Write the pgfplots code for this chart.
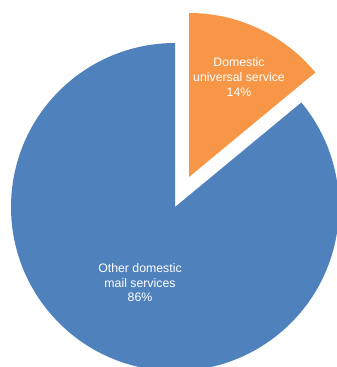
\documentclass[border=0pt]{standalone}
\usepackage{pgfplots}
\pgfplotsset{compat=1.18}
\usepackage{fontspec}
\setmainfont{Liberation Sans}
\definecolor{pieblue}{HTML}{4F81BD}
\definecolor{pieorange}{HTML}{F79646}
% slice shares (percent)
\def\valUniversal{14}
\def\valOther{86}
\begin{document}
\begin{tikzpicture}
\begin{axis}[hide axis, scale only axis, x=1pt, y=1pt,
  xmin=0, xmax=337, ymin=0, ymax=367, clip=true]
  \pgfmathsetmacro{\angEnd}{90-3.6*\valUniversal}
  \pgfmathsetmacro{\angOtherEnd}{\angEnd-3.6*\valOther}
  % Other domestic mail services (blue), centre (175,160)
  \fill[pieblue] (axis cs:175,160) -- ++(\angEnd:164pt) arc[start angle=\angEnd, end angle=\angOtherEnd, radius=164pt] -- cycle;
  % Domestic universal service (orange), exploded, centre (189,190)
  \fill[pieorange] (axis cs:189,190) -- ++(90:164pt) arc[start angle=90, end angle=\angEnd, radius=164pt] -- cycle;
  \node[text=white, align=center, font=\fontsize{12.3}{14.6}\selectfont] at (axis cs:239,290) {Domestic\\universal service\\\valUniversal\%};
  \node[text=white, align=center, font=\fontsize{12.3}{14.6}\selectfont] at (axis cs:140,84) {Other domestic\\mail services\\\valOther\%};
\end{axis}
\pgfresetboundingbox
\path (current axis.south west) rectangle (current axis.north east);
\end{tikzpicture}
\end{document}
